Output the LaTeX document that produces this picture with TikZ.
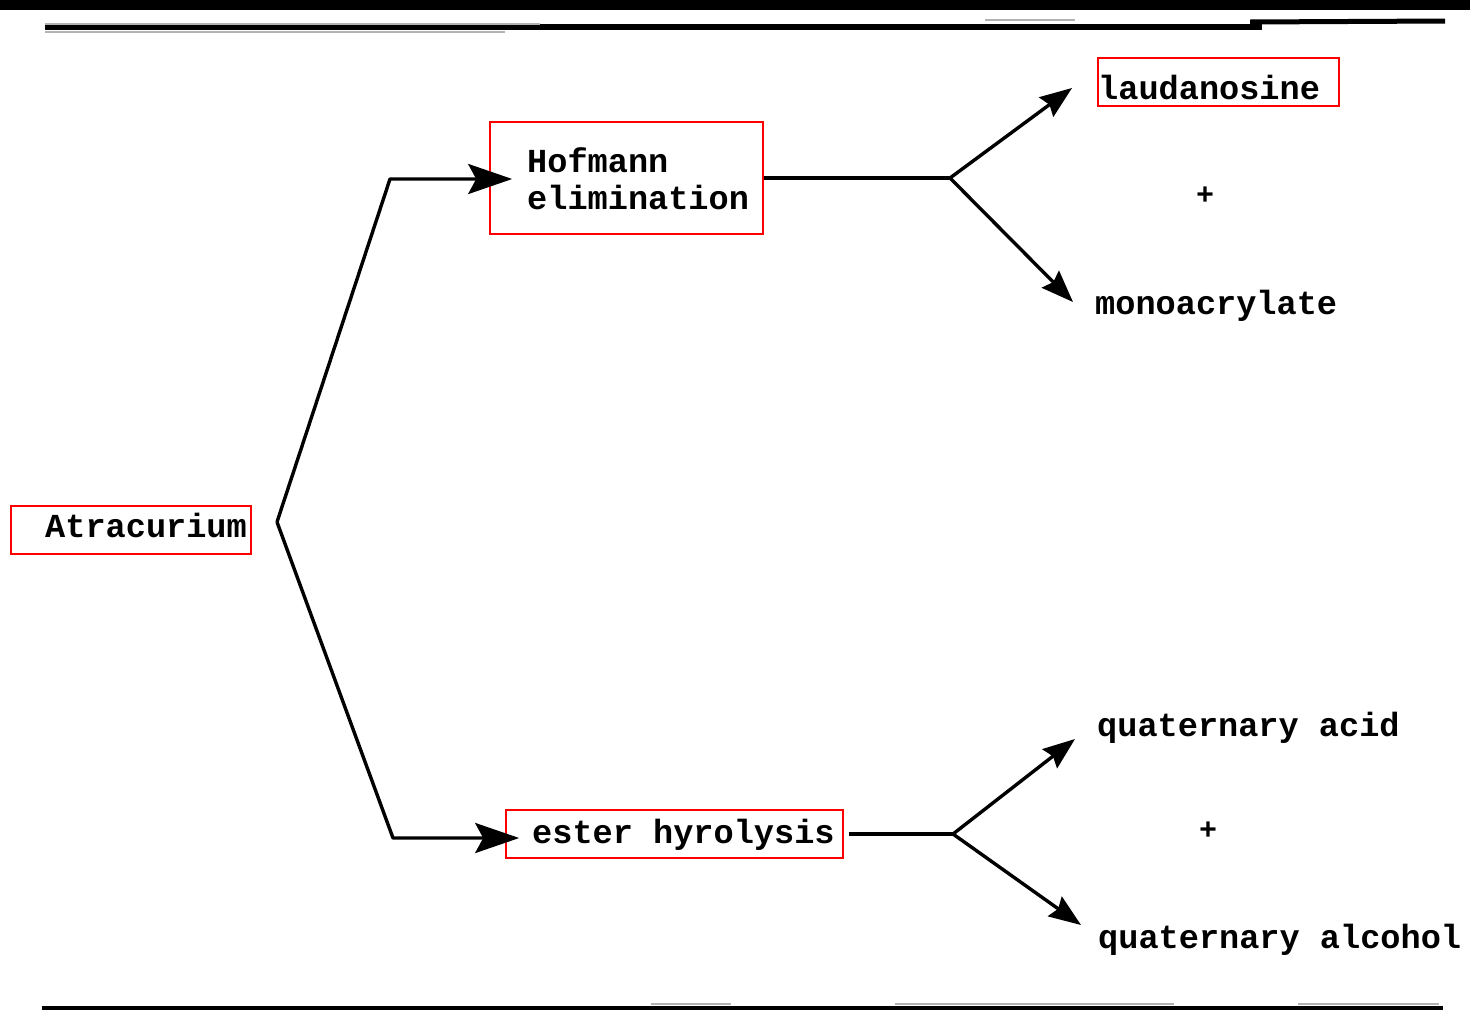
\documentclass[tikz,border=0pt]{standalone}
\usepackage{fontspec}
\setmonofont{Liberation Mono}
\usetikzlibrary{arrows.meta,fit}
\begin{document}
\begin{tikzpicture}[x=1pt,y=-1pt,
  redbox/.style={draw=red, line width=1.6pt, inner sep=0pt},
  lbl/.style={inner sep=0pt, anchor=base west, font=\ttfamily\bfseries\fontsize{33.6}{36}\selectfont},
  plus/.style={inner sep=0pt, font=\ttfamily\bfseries\fontsize{30}{32}\selectfont},
  conn/.style={line width=3.4pt, line join=round},
  bigarrow/.style={conn, -{Stealth[length=44pt,width=30pt,inset=8pt]}},
  smallarrow/.style={conn, -{Stealth[length=32pt,width=24pt,inset=4pt]}},
  rulegray/.style={draw=gray!60, line width=2pt}]
\useasboundingbox (0,0) rectangle (1470,1010);
% page rules
\fill[black] (0,0) rectangle (1470,10);
\draw[line width=6pt] (45,27) -- (1262,27);
\draw[line width=5pt] (1250,22) -- (1445,21);
\draw[rulegray] (45,23.5) -- (540,23.5);
\draw[rulegray] (45,32) -- (505,32);
\draw[rulegray] (985,20) -- (1075,20);
\draw[line width=3.5pt] (42,1008) -- (1443,1008);
\draw[rulegray] (651,1004) -- (731,1004);
\draw[rulegray] (895,1004) -- (1174,1004);
\draw[rulegray] (1298,1004) -- (1439,1004);
% labels
\node[lbl] (atrT) at (45,537) {Atracurium};
\node[redbox, fit={(11,506) (251,554)}] (atr) {};
\node[lbl] (hofA) at (527,172) {Hofmann};
\node[lbl] (hofB) at (527,209) {elimination};
\node[redbox, fit={(490,122) (763,234)}] (hof) {};
\node[lbl] (estT) at (532,843) {ester hyrolysis};
\node[redbox, fit={(506,810) (843,858)}] (est) {};
\node[lbl] (laudT) at (1098,99) {laudanosine};
\node[redbox, fit={(1098,58) (1339,106)}] (laud) {};
\node[plus] (p1) at (1205,196) {+};
\node[lbl] (mono) at (1095,314) {monoacrylate};
\node[lbl] (qacid) at (1097,736) {quaternary acid};
\node[plus] (p2) at (1208,831) {+};
\node[lbl] (qalc) at (1098,948) {quaternary alcohol};
% connectors
\coordinate (s1) at (277,522);
\coordinate (k1) at (390,179);
\coordinate (k2) at (393,838);
\draw[bigarrow] (s1) -- (k1) -- ([xshift=23pt,yshift=-1pt]hof.west);
\draw[bigarrow] (s1) -- (k2) -- ([xshift=14pt,yshift=-4pt]est.west);
\coordinate (s2) at (950,178);
\coordinate (t1) at (1072,88);
\coordinate (t2) at (1073,302);
\draw[conn] (hof.east) -- (s2);
\draw[smallarrow] (s2) -- (t1);
\draw[smallarrow] (s2) -- (t2);
\coordinate (s3) at (953,834);
\coordinate (t3) at (1075,739);
\coordinate (t4) at (1081,925);
\draw[conn] ([xshift=5pt]est.east) -- (s3);
\draw[smallarrow] (s3) -- (t3);
\draw[smallarrow] (s3) -- (t4);
\end{tikzpicture}
\end{document}
